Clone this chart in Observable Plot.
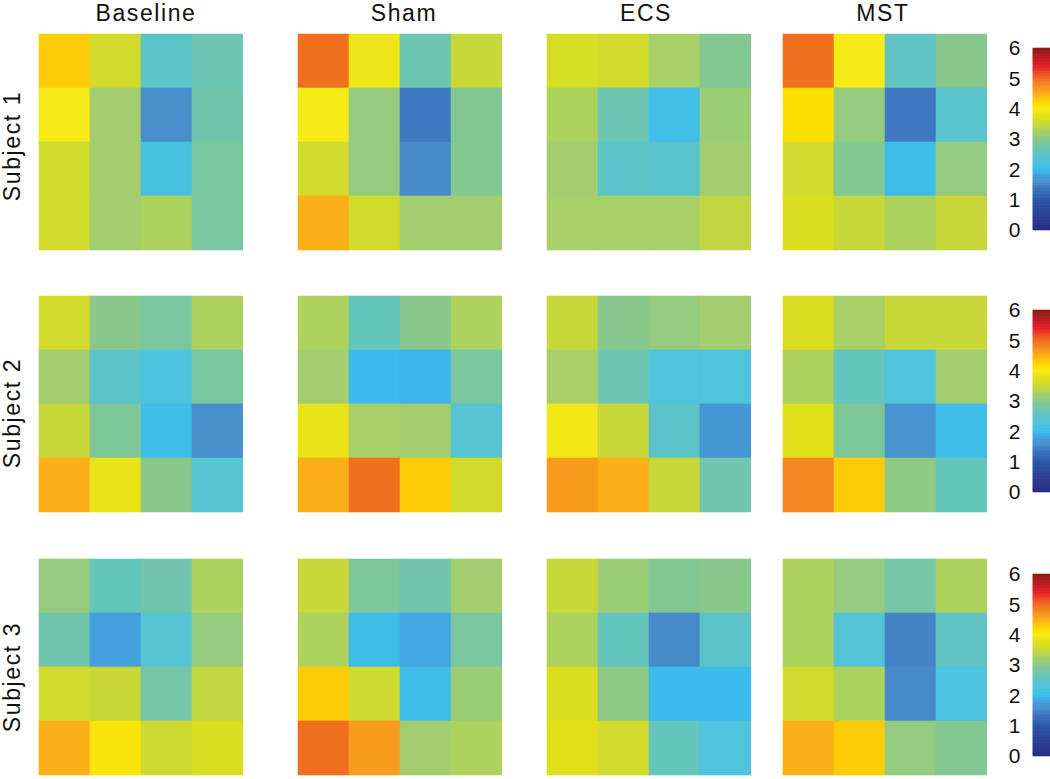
<!DOCTYPE html>
<html>
<head>
<meta charset="utf-8">
<script src="https://cdn.jsdelivr.net/npm/d3@7"></script>
<script src="https://cdn.jsdelivr.net/npm/@observablehq/plot@0.6"></script>
<style>
  html, body { margin: 0; padding: 0; background: #fff; }
  #root { position: relative; width: 1050px; height: 779px; overflow: hidden; font-family: "Liberation Sans", Arial, sans-serif; }
  .title { position: absolute; top: 0; font-size: 23px; letter-spacing: 1.6px; line-height: 26px; color: #111; transform: translateX(-50%); white-space: nowrap; }
  .rowlab { position: absolute; font-size: 23px; letter-spacing: 1.6px; line-height: 24px; color: #111; white-space: nowrap; transform: translate(-50%, -50%) rotate(-90deg); }
  .panel { position: absolute; }
  .panel svg { max-width: none !important; }
  .cbar text { font-size: 21px !important; font-family: "Liberation Sans", Arial, sans-serif; fill: #111; }
</style>
</head>
<body>
<div id="root"></div>
<script>
// ---- categories ----
const conditions = ["Baseline", "Sham", "ECS", "MST"];
const subjects = ["Subject 1", "Subject 2", "Subject 3"];
const colorTicks = [0, 1, 2, 3, 4, 5, 6];

// ---- values (4x4 grid per panel, rows top→bottom) ----
const s1Baseline = [[4.3, 3.6, 2.5, 2.7], [4.0, 3.2, 1.6, 2.75], [3.6, 3.2, 2.2, 2.85], [3.6, 3.2, 3.3, 2.85]];
const s1Sham     = [[5.0, 3.9, 2.7, 3.5], [4.0, 3.1, 1.4, 2.95], [3.6, 3.1, 1.55, 2.95], [4.5, 3.6, 3.2, 3.2]];
const s1ECS      = [[3.65, 3.6, 3.25, 2.95], [3.3, 2.7, 2.1, 3.15], [3.2, 2.5, 2.45, 3.2], [3.25, 3.25, 3.25, 3.45]];
const s1MST      = [[5.0, 4.0, 2.55, 3.0], [4.15, 3.1, 1.4, 2.45], [3.6, 2.95, 2.05, 3.1], [3.7, 3.5, 3.3, 3.5]];

const s2Baseline = [[3.6, 3.0, 2.85, 3.3], [3.2, 2.5, 2.25, 2.85], [3.5, 2.9, 2.05, 1.6], [4.5, 3.85, 3.0, 2.4]];
const s2Sham     = [[3.3, 2.6, 3.0, 3.3], [3.2, 2.0, 1.95, 2.85], [3.85, 3.25, 3.2, 2.4], [4.5, 5.0, 4.3, 3.6]];
const s2ECS      = [[3.5, 3.0, 3.1, 3.2], [3.25, 2.7, 2.3, 2.3], [3.95, 3.5, 2.5, 1.7], [4.65, 4.5, 3.5, 2.75]];
const s2MST      = [[3.7, 3.25, 3.5, 3.5], [3.3, 2.6, 2.3, 3.2], [3.75, 2.9, 1.65, 2.05], [4.8, 4.3, 3.05, 2.6]];

const s3Baseline = [[3.1, 2.6, 2.75, 3.3], [2.75, 1.8, 2.4, 3.1], [3.6, 3.5, 2.8, 3.45], [4.5, 4.1, 3.55, 3.7]];
const s3Sham     = [[3.5, 2.9, 2.75, 3.2], [3.3, 2.05, 1.85, 2.85], [4.3, 3.55, 2.05, 3.15], [5.0, 4.65, 3.2, 3.3]];
const s3ECS      = [[3.5, 3.15, 2.95, 3.0], [3.3, 2.6, 1.55, 2.5], [3.7, 3.05, 2.0, 2.0], [3.75, 3.6, 2.6, 2.3]];
const s3MST      = [[3.3, 3.1, 2.8, 3.3], [3.3, 2.35, 1.5, 2.55], [3.6, 3.3, 1.55, 2.25], [4.5, 4.3, 3.1, 2.95]];

const grids = [
  [s1Baseline, s1Sham, s1ECS, s1MST],
  [s2Baseline, s2Sham, s2ECS, s2MST],
  [s3Baseline, s3Sham, s3ECS, s3MST]
];

// ---- colour scale (softened jet, 0–6) ----
const colorDomain = [0, 1.0, 1.4, 1.6, 1.8, 2.0, 2.3, 2.5, 2.75, 3.0, 3.25, 3.5, 3.75, 4.0, 4.15, 4.3, 4.5, 4.65, 4.8, 5.0, 5.4, 6];
const colorRange  = ["#2a2a80", "#2c58a8", "#3e78c0", "#4890cc", "#44a0dc", "#3cbcec", "#50c4dc", "#5cc4c8", "#70c6ac", "#88c88c", "#a8d068", "#c8d838", "#e0e018", "#f6ea18", "#fce000", "#fccc08", "#fcb018", "#f89c20", "#f48820", "#f07020", "#e8202a", "#8a1a1a"];
const colorScale = {type: "linear", domain: colorDomain, range: colorRange, interpolate: "rgb"};

// ---- layout ----
const panelX = [38, 297, 546, 782];
const panelY = [32, 294, 557];
const panelW = 205, panelH = 219;
const titleX = [146, 404, 646, 883];
const rowLabelY = [146, 413, 677];
const barTop = [48, 310, 574];
const barH = 182;

const root = document.getElementById("root");

function place(el, x, y, w, cls) {
  const wrap = document.createElement("div");
  wrap.className = "panel" + (cls ? " " + cls : "");
  wrap.style.left = x + "px";
  wrap.style.top = y + "px";
  wrap.style.width = w + "px";
  wrap.appendChild(el);
  root.appendChild(wrap);
}

// column titles
conditions.forEach((c, j) => {
  const d = document.createElement("div");
  d.className = "title";
  d.style.left = titleX[j] + "px";
  d.textContent = c;
  root.appendChild(d);
});

// row labels
subjects.forEach((s, i) => {
  const d = document.createElement("div");
  d.className = "rowlab";
  d.style.left = "12px";
  d.style.top = rowLabelY[i] + "px";
  d.textContent = s;
  root.appendChild(d);
});

// heatmaps
const idx = [0, 1, 2, 3];
grids.forEach((row, i) => {
  row.forEach((grid, j) => {
    const cells = [];
    grid.forEach((vals, r) => vals.forEach((v, c) => cells.push({row: r, col: c, value: v})));
    const chart = Plot.plot({
      width: panelW, height: panelH,
      margin: 0,
      x: {domain: idx, padding: 0, axis: null},
      y: {domain: idx, padding: 0, axis: null},
      color: colorScale,
      marks: [
        Plot.cell(cells, {x: "col", y: "row", fill: "value", stroke: "value", strokeWidth: 0.6, inset: 0})
      ]
    });
    place(chart, panelX[j], panelY[i], panelW);
  });
});

// colour bars
const step = 0.02;
const ramp = d3.range(0, 6, step);
subjects.forEach((s, i) => {
  const bar = Plot.plot({
    width: 80, height: barH + 20,
    marginTop: 10, marginBottom: 10, marginLeft: 43, marginRight: 17,
    style: {background: "transparent", overflow: "visible", maxWidth: "none"},
    x: {axis: null, domain: [0, 1]},
    y: {domain: [0, 6], axis: null},
    color: colorScale,
    marks: [
      Plot.rect(ramp, {x1: 0, x2: 1, y1: d => d, y2: d => d + step, fill: d => d + step / 2, stroke: d => d + step / 2, strokeWidth: 0.6}),
      Plot.axisY({ticks: colorTicks, tickSize: 0, tickPadding: 13, tickFormat: d3.format("d"), label: null})
    ]
  });
  d3.select(bar).selectAll("text").style("font-size", "21px");
  place(bar, 990, barTop[i] - 10, 80, "cbar");
});
</script>
</body>
</html>
